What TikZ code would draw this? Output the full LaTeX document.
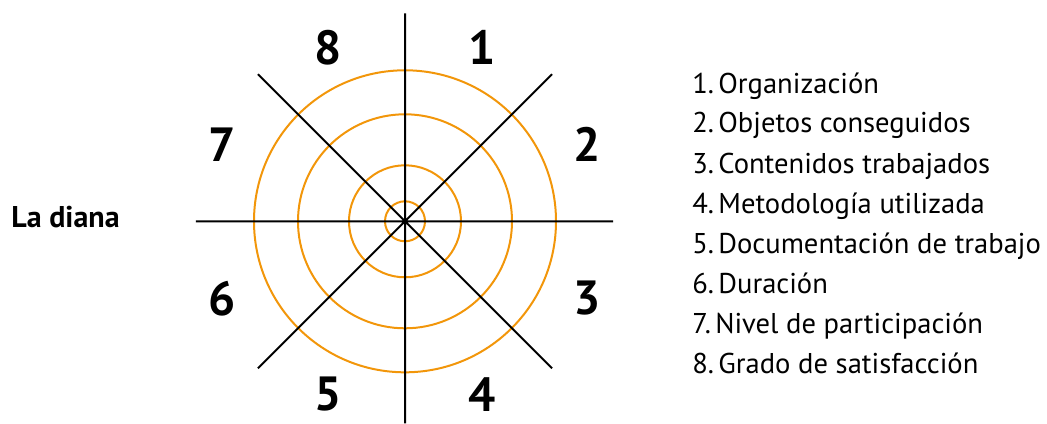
\documentclass[tikz,border=0pt]{standalone}
\usepackage{fontspec}
\setmainfont{PT Sans}
\definecolor{dianaorange}{RGB}{242,150,10}
\tikzset{
  ring/.style={draw=dianaorange,line width=1pt},
  axis/.style={draw=black,line width=1pt},
  sector/.style={inner sep=0pt,font=\bfseries\fontsize{24}{26}\selectfont},
  legend/.style={anchor=base west,inner sep=0pt,font=\fontsize{14.3}{16}\selectfont}
}
\begin{document}
\begin{tikzpicture}[x=.5pt,y=.5pt]
\useasboundingbox (-405,-201.7) rectangle (642,221.3);
\coordinate (c) at (0,0);
% rings
\foreach \r in {20,56,107,151}{\draw[ring] (c) circle (\r);}
% axes
\coordinate (top) at (0,208);\coordinate (bot) at (0,-202);
\coordinate (lft) at (-209,0);\coordinate (rgt) at (208,0);
\foreach \a in {45,135,225,315}{\coordinate (d\a) at (\a:208);}
\draw[axis] (top)--(bot) (lft)--(rgt) (d45)--(d225) (d135)--(d315);
% sector numbers
\foreach \i/\x/\y in {1/77/174,2/182/77,3/182/-77,4/77/-173,5/-77/-173,6/-183/-77,7/-183/77,8/-77/174}{
  \node[sector] (n\i) at (\x,\y) {\i};}
\node[anchor=base west,inner sep=0pt,font=\bfseries\fontsize{15}{17}\selectfont] (title) at (-394,-5.7) {La diana};
% legend
\foreach \i/\t in {1/Organización,2/Objetos conseguidos,3/Contenidos trabajados,4/Metodología utilizada,5/Documentación de trabajo,6/Duración,7/Nivel de participación,8/Grado de satisfacción}{
  \pgfmathsetmacro{\yy}{128.3-40*(\i-1)}
  \node[legend] (it\i) at (287,\yy) {\i.\hspace{.15em}\t};}
\end{tikzpicture}
\end{document}
